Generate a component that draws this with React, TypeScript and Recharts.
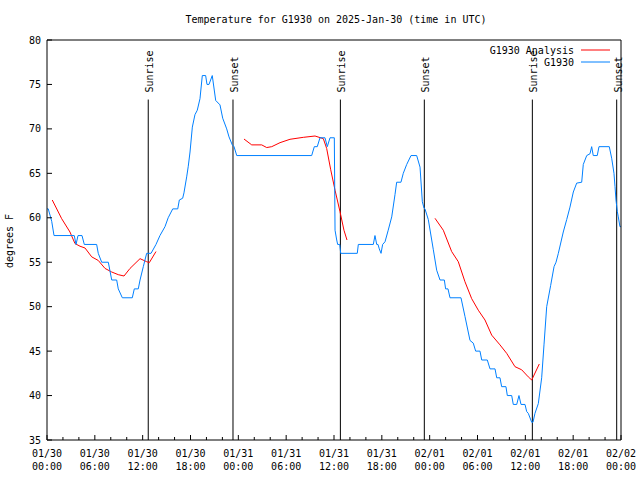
import { LineChart, Line, XAxis, YAxis, ReferenceLine, Legend } from 'recharts';

// observed temperature, hours since 2025-01-30 00:00 UTC
const obsHours = [
  0, 0.16, 0.59, 0.88, 3.42, 3.64, 3.89, 4.39, 4.68, 6.23, 6.43, 6.86, 7.69, 8.12, 8.74, 8.94, 9.45, 10.7,
  10.95, 11.45, 11.67, 12.08, 12.5, 13.05, 13.67, 14.17, 14.8, 15.2, 15.77, 16.4, 16.6, 17.02, 17.18, 17.52,
  17.72, 17.94, 18.23, 18.56, 18.85, 19.19, 19.48, 19.9, 20.07, 20.32, 20.73, 21.16, 21.7, 22.04, 22.54,
  22.83, 23.24, 23.46, 23.8, 33.2, 33.53, 33.9, 34.24, 34.87, 35.16, 35.5, 36.04, 36.13, 36.34, 36.46,
  36.72, 36.84, 38.92, 39.05, 40.93, 41.14, 41.36, 41.52, 41.68, 41.9, 42.1, 42.4, 42.8, 43.24, 43.65,
  43.86, 44.4, 44.69, 45.12, 45.66, 46.37, 46.79, 47.08, 47.29, 47.41, 47.83, 48.46, 48.88, 49.3, 49.84,
  50.0, 50.3, 50.55, 51.93, 52.43, 53.06, 53.47, 53.77, 54.31, 54.53, 55.23, 55.57, 56.2, 56.41, 56.82,
  57.03, 57.57, 57.74, 58.29, 58.49, 58.92, 59.2, 59.46, 59.96, 60.17, 60.37, 60.8, 60.96, 61.21, 61.63,
  62.05, 62.34, 62.68, 63.18, 63.6, 63.85, 64.14, 64.76, 65.19, 65.6, 66.02, 66.44, 67.07, 67.27, 67.7,
  68.11, 68.32, 68.52, 69.02, 69.24, 70.53, 70.83, 71.12, 71.25, 71.37, 71.54, 71.66, 71.87, 72,
];
const obsTemps = [
  61, 61, 59.6, 58, 58, 57, 58, 58, 57, 57, 56, 55, 55, 53, 53, 52, 51, 51,
  52, 52, 53, 54.5, 56, 56, 57, 58, 59, 60, 61, 61, 62, 62.2, 62.8, 64.6,
  65.8, 67.4, 70.2, 71.6, 72.1, 73.4, 76, 76, 75, 75, 76, 73.2, 72.7, 71.2, 70,
  69.1, 68.2, 68, 67, 67, 68, 68, 69, 69, 68, 69, 69, 58.6, 57.5, 57,
  57, 56, 56, 57, 57, 58, 57, 57, 56.5, 56, 57, 57.3, 58.6, 60.1, 62.6,
  64, 64, 65, 66, 67, 67, 65.7, 61.8, 61.1, 61, 59.8, 56.4, 54.1, 53, 53,
  52, 52, 51, 51, 48.9, 46.2, 45.9, 45, 45, 44, 44, 43, 43, 42, 42,
  41, 41, 40, 40, 39, 39, 40, 39, 39, 38.2, 38, 37, 37, 38, 39.1,
  42, 45.7, 50, 52.4, 54.5, 55, 56, 58.4, 59.8, 61.2, 62.9, 63.9, 64, 66, 67,
  67.2, 68, 67, 67, 68, 68, 66.7, 65, 63.5, 62, 60.7, 60.1, 59, 59,
];

// analysis curve, null marks a gap
const anaHours = [
  0.66, 1.84, 2.88, 3.51, 4.14, 4.77, 5.61, 6.43, 7.28, 8.12, 8.94, 9.66, 10.41, 11.67, 12.5, 12.83, 13.67,
  14,
  24.71, 25.68, 26.93, 27.56, 28.19, 29.23, 30.48, 32.15, 33.62, 34.66, 35.08, 35.59, 36.13, 36.75, 37.25, 37.63,
  38,
  48.67, 49.71, 50.76, 51.59, 52.43, 53.27, 54.1, 54.94, 55.78, 56.82, 57.66, 58.7, 59.54, 60.37, 60.8, 61.75,
];
const anaTemps = [
  62, 59.9, 58.4, 57.1, 56.8, 56.6, 55.6, 55.2, 54.3, 53.9, 53.6, 53.45, 54.3, 55.4, 55.06, 54.95, 56.2,
  null,
  68.86, 68.2, 68.2, 67.9, 68, 68.45, 68.83, 69.05, 69.2, 68.9, 67.8, 65.4, 63.1, 60.7, 58.6, 57.5,
  null,
  59.94, 58.6, 56.2, 55.06, 52.8, 50.9, 49.6, 48.5, 46.8, 45.7, 44.75, 43.25, 42.9, 42.1, 41.75, 43.55,
];

const sunHours = [12.7, 23.33, 36.8, 47.33, 60.88, 71.46];
const sunNames = ['Sunrise', 'Sunset', 'Sunrise', 'Sunset', 'Sunrise', 'Sunset'];

const xTicks = [0, 2, 4, 6, 8, 10, 12, 14, 16, 18, 20, 22, 24, 26, 28, 30, 32, 34, 36, 38, 40, 42, 44, 46, 48, 50, 52, 54, 56, 58, 60, 62, 64, 66, 68, 70, 72];
const labelHours = [0, 6, 12, 18, 24, 30, 36, 42, 48, 54, 60, 66, 72];
const tickDates = ['01/30', '01/30', '01/30', '01/30', '01/31', '01/31', '01/31', '01/31', '02/01', '02/01', '02/01', '02/01', '02/02'];
const tickTimes = ['00:00', '06:00', '12:00', '18:00', '00:00', '06:00', '12:00', '18:00', '00:00', '06:00', '12:00', '18:00', '00:00'];
const yTicks = [35, 40, 45, 50, 55, 60, 65, 70, 75, 80];

const obsData = obsHours.map((h, i) => ({ h, t: obsTemps[i] }));
const anaData = anaHours.map((h, i) => ({ h, a: anaTemps[i] }));

const FONT = '"DejaVu Sans Mono", monospace';
const TOP = 40;
const BOTTOM = 440;
const LEFT = 47;
const RIGHT = 621;

const BottomTick = ({ x, payload }: any) => {
  const i = labelHours.indexOf(payload.value);
  return (
    <g>
      <line x1={x} x2={x} y1={BOTTOM} y2={BOTTOM - (i >= 0 ? 5 : 3)} stroke="#000" />
      {i >= 0 && (
        <text fontFamily={FONT} fontSize={10} fill="#000" textAnchor="middle">
          <tspan x={x} y={456.5}>{tickDates[i]}</tspan>
          <tspan x={x} y={469.5}>{tickTimes[i]}</tspan>
        </text>
      )}
    </g>
  );
};

const TopTick = ({ x, payload }: any) => {
  const major = labelHours.includes(payload.value);
  return <line x1={x} x2={x} y1={TOP} y2={TOP + (major ? 5 : 3)} stroke="#000" />;
};

const LeftTick = ({ y, payload }: any) => (
  <g>
    <line x1={LEFT} x2={LEFT + 5} y1={y} y2={y} stroke="#000" />
    <text x={41} y={y + 3.5} fontFamily={FONT} fontSize={10} fill="#000" textAnchor="end">
      {payload.value}
    </text>
  </g>
);

const RightTick = ({ y }: any) => <line x1={RIGHT} x2={RIGHT - 5} y1={y} y2={y} stroke="#000" />;

const SunLabel = (name: string) => (props: any) => {
  const vb = props.viewBox || {};
  const x = vb.x + 5;
  const y = vb.y - 7;
  return (
    <text x={x} y={y} transform={`rotate(-90 ${x} ${y})`} fontFamily={FONT} fontSize={10} fill="#000" textAnchor="start">
      {name}
    </text>
  );
};

const LegendBox = () => (
  <svg width={150} height={32}>
    <text x={94} y={15.5} fontFamily={FONT} fontSize={10} textAnchor="end" fill="#000">G1930 Analysis</text>
    <line x1={101} x2={130} y1={12} y2={12} stroke="#ff0000" />
    <text x={94} y={27.5} fontFamily={FONT} fontSize={10} textAnchor="end" fill="#000">G1930</text>
    <line x1={101} x2={130} y1={24} y2={24} stroke="#0080ff" />
  </svg>
);

export default function App() {
  return (
    <div style={{ position: 'absolute', left: 0, top: 0, width: 640, height: 480, background: '#fff' }}>
      <LineChart width={640} height={480} margin={{ top: TOP - 1, right: 640 - RIGHT - 1, bottom: 0, left: 7 }}>
        <XAxis
          xAxisId="bottom"
          dataKey="h"
          type="number"
          domain={[0, 72]}
          ticks={xTicks}
          interval={0}
          height={40}
          tickLine={false}
          tickSize={0}
          axisLine={{ stroke: '#000' }}
          tick={<BottomTick />}
        />
        <XAxis
          xAxisId="top"
          orientation="top"
          dataKey="h"
          type="number"
          domain={[0, 72]}
          ticks={xTicks}
          interval={0}
          height={1}
          tickLine={false}
          tickSize={0}
          axisLine={{ stroke: '#000' }}
          tick={<TopTick />}
          label={() => (
            <text x={336} y={22.5} fontFamily={FONT} fontSize={10} fill="#000" textAnchor="middle">
              Temperature for G1930 on 2025-Jan-30 (time in UTC)
            </text>
          )}
        />
        <YAxis
          yAxisId="left"
          type="number"
          domain={[35, 80]}
          ticks={yTicks}
          interval={0}
          width={40}
          tickLine={false}
          tickSize={0}
          axisLine={{ stroke: '#000' }}
          tick={<LeftTick />}
          label={() => (
            <text x={13} y={241} transform="rotate(-90 13 241)" fontFamily={FONT} fontSize={10} fill="#000" textAnchor="middle">
              degrees F
            </text>
          )}
        />
        <YAxis
          yAxisId="right"
          orientation="right"
          type="number"
          domain={[35, 80]}
          ticks={yTicks}
          interval={0}
          width={1}
          tickLine={false}
          tickSize={0}
          axisLine={{ stroke: '#000' }}
          tick={<RightTick />}
        />
        {sunHours.map((h, i) => (
          <ReferenceLine
            key={i}
            xAxisId="bottom"
            yAxisId="left"
            segment={[{ x: h, y: 73.3 }, { x: h, y: 35 }]}
            stroke="#000"
            strokeWidth={1}
            label={SunLabel(sunNames[i])}
          />
        ))}
        <Line
          xAxisId="bottom"
          yAxisId="left"
          data={anaData}
          dataKey="a"
          type="linear"
          stroke="#ff0000"
          strokeWidth={1}
          dot={false}
          connectNulls={false}
          isAnimationActive={false}
        />
        <Line
          xAxisId="bottom"
          yAxisId="left"
          data={obsData}
          dataKey="t"
          type="linear"
          stroke="#0080ff"
          strokeWidth={1}
          dot={false}
          isAnimationActive={false}
        />
        <Legend
          layout="vertical"
          verticalAlign="middle"
          align="center"
          content={<LegendBox />}
          wrapperStyle={{ position: 'absolute', left: 480, top: 38, width: 150, height: 32 }}
        />
      </LineChart>
    </div>
  );
}
